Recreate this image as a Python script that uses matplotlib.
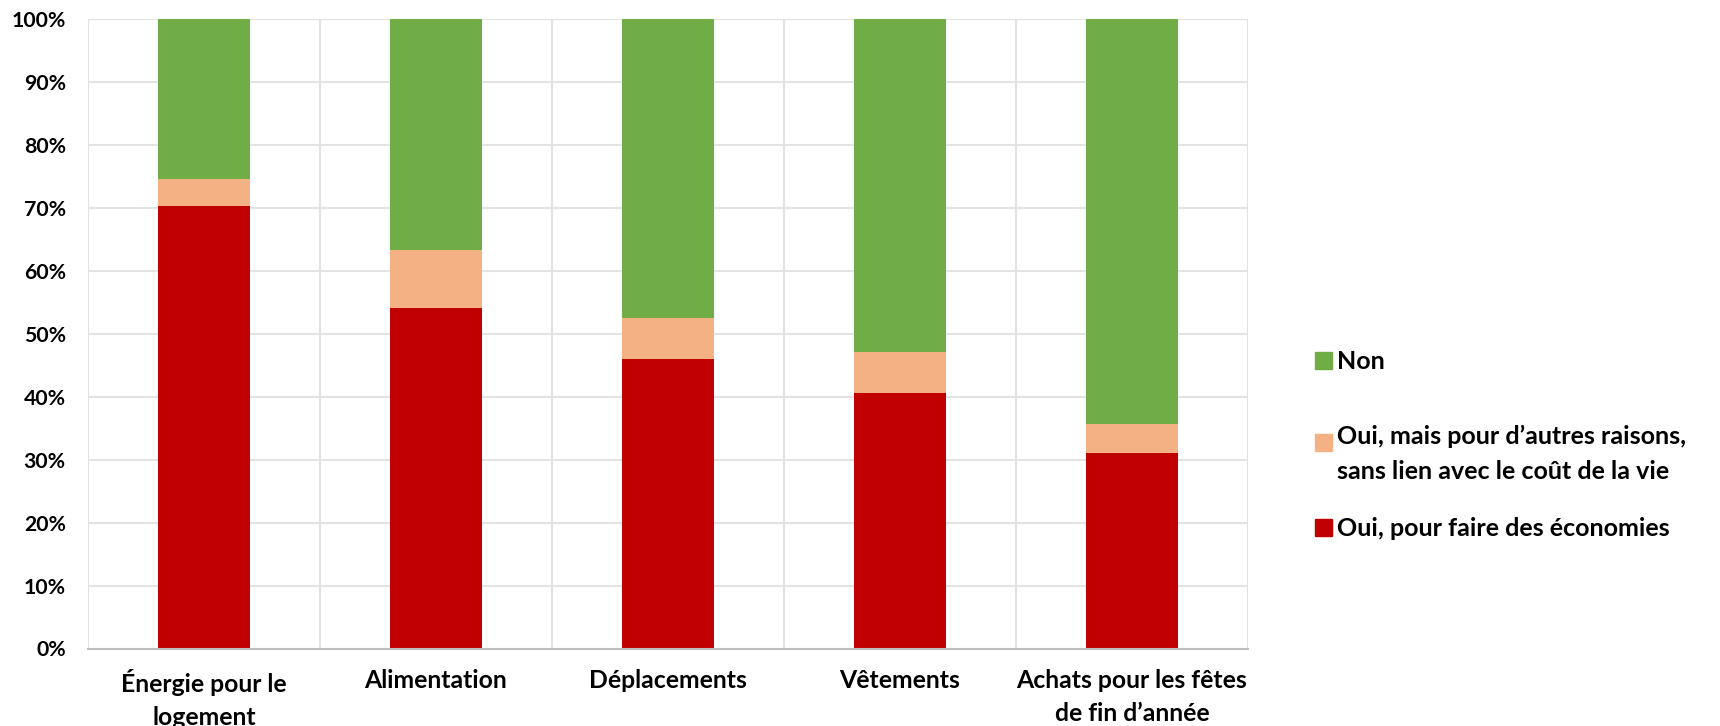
import matplotlib
matplotlib.use("Agg")
import matplotlib.pyplot as plt
from matplotlib.patches import Rectangle
import numpy as np

categories = ["Énergie pour le\nlogement", "Alimentation", "Déplacements", "Vêtements",
              "Achats pour les fêtes\nde fin d’année"]
oui_eco = [70.3, 54.1, 45.9, 40.5, 31.1]
oui_autres = [4.3, 9.1, 6.6, 6.6, 4.6]
non = [25.4, 36.8, 47.5, 52.9, 64.3]
labels = ["Oui, pour faire des économies",
          "Oui, mais pour d’autres raisons,\nsans lien avec le coût de la vie",
          "Non"]
colors = ["#C00000", "#F4B183", "#70AD47"]
yticks = [0, 10, 20, 30, 40, 50, 60, 70, 80, 90, 100]

plt.rcParams['font.family'] = ['Lato', 'DejaVu Sans']
plt.rcParams['font.weight'] = 'bold'

fig = plt.figure(figsize=(17.2, 7.26), dpi=100)
ax = fig.add_axes([88/1720, 1-648.5/726, (1248-88)/1720, (648.5-18.7)/726])

x = np.arange(len(categories))
w = 0.4
bottom = np.zeros(len(categories))
for vals, col in zip([oui_eco, oui_autres, non], colors):
    ax.bar(x, vals, w, bottom=bottom, color=col, zorder=3, linewidth=0)
    bottom += np.array(vals)

ax.set_xlim(-0.5, len(categories) - 0.5)
ax.set_ylim(0, 100)
ax.set_yticks(yticks)
ax.set_yticklabels([f"{t}%" for t in yticks], fontsize=15.3, fontweight='bold')
ax.set_xticks(x)
ax.set_xticklabels(categories, fontsize=17.8, fontweight='bold', linespacing=1.5)
ax.tick_params(axis='both', length=0)
ax.tick_params(axis='x', pad=15)
ax.tick_params(axis='y', pad=16)

for t in yticks[1:]:
    ax.axhline(t, color="#E3E3E3", lw=1.5, zorder=1)
for b in np.arange(-0.5, len(categories), 1.0):
    ax.axvline(b, color="#E3E3E3", lw=1.5, zorder=1)
for s in ['top', 'right', 'left']:
    ax.spines[s].set_visible(False)
ax.spines['bottom'].set_color("#BFBFBF")
ax.spines['bottom'].set_linewidth(1.5)
ax.spines['bottom'].set_zorder(4)

# legend (manual, Excel style: marker aligned to first line)
leg_items = [(labels[2], colors[2], 361), (labels[1], colors[1], 443), (labels[0], colors[0], 528)]
for lab, col, ypx in leg_items:
    fig.patches.append(Rectangle((1315/1720, 1-(ypx+8)/726), 17/1720, 17/726,
                                 transform=fig.transFigure, color=col))
    if '\n' in lab:
        fig.text(1337/1720, 1-(ypx-18)/726, lab, fontsize=18, fontweight='bold', va='top',
                 ha='left', linespacing=1.64, transform=fig.transFigure)
    else:
        fig.text(1337/1720, 1-ypx/726, lab, fontsize=18, fontweight='bold', va='center',
                 ha='left', transform=fig.transFigure)

fig.savefig("out.png", dpi=100)
